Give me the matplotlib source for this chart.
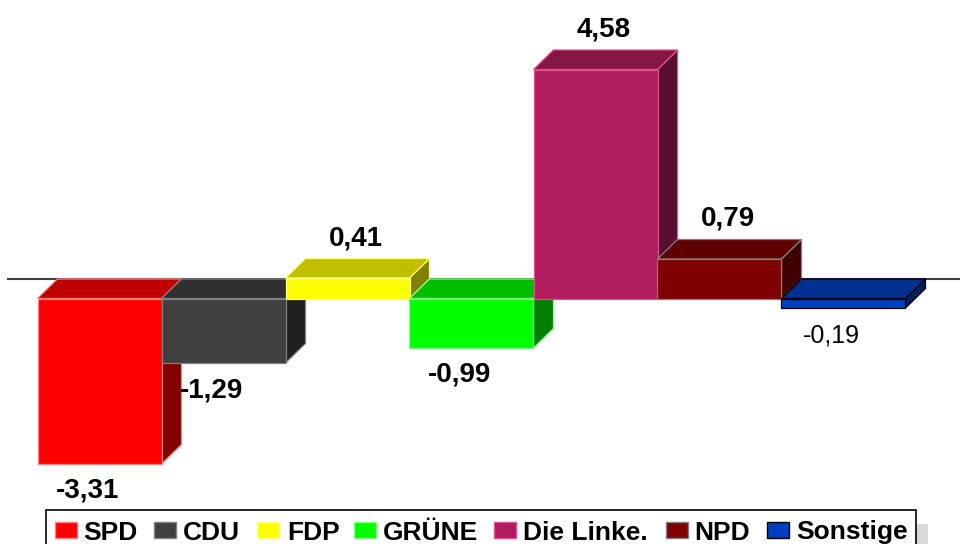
import matplotlib
matplotlib.use("Agg")
import matplotlib.pyplot as plt
from matplotlib.patches import Polygon, Rectangle
import matplotlib.colors as mcolors

plt.rcParams['font.family'] = ['Liberation Sans', 'DejaVu Sans']

# ---- data ----
parties = ["SPD", "CDU", "FDP", "GRÜNE", "Die Linke.", "NPD", "Sonstige"]
values = [-3.31, -1.29, 0.41, -0.99, 4.58, 0.79, -0.19]
value_labels = ["-3,31", "-1,29", "0,41", "-0,99", "4,58", "0,79", "-0,19"]
colors = ["#ff0000", "#404040", "#ffff00", "#00ff00", "#b01c5e", "#800000", "#0040c0"]
edge_colors = ["#ff8080", "#808080", "#ffff80", "#80ff80", "#e0508a", "#808080", "#000000"]
label_bold = [True, True, True, True, True, True, False]

# ---- layout (pixels) ----
W, H = 960, 544
x0 = 37.5      # left edge of first bar
bw = 124.0     # bar width / step
y0 = 298.5     # zero level (front) from top
ppu = 50.0     # pixels per unit
depth_x, depth_y = 20.0, 19.5

fig = plt.figure(figsize=(W / 100, H / 100), dpi=100)
ax = fig.add_axes([0, 0, 1, 1])
ax.axis('off')
ax.set_xlim(-x0 / bw, (W - x0) / bw)
ax.set_ylim((y0 - H) / ppu, y0 / ppu)
dx = depth_x / bw
dy = depth_y / ppu


def shade(c, f):
    r, g, b = mcolors.to_rgb(c)
    return (r * f, g * f, b * f)


# zero line at back plane
ax.axhline(dy, xmin=8 / W, xmax=1, color="#404040", lw=1.5, zorder=1)

lw = 0.9
for i, (v, c, ec) in enumerate(zip(values, colors, edge_colors)):
    lo, hi = min(0, v), max(0, v)
    z = 2 + i
    front = Rectangle((i, lo), 1, hi - lo, facecolor=c, edgecolor=ec, lw=lw, zorder=z)
    top = Polygon([(i, hi), (i + 1, hi), (i + 1 + dx, hi + dy), (i + dx, hi + dy)],
                  closed=True, facecolor=shade(c, 0.75), edgecolor=ec, lw=lw, zorder=z)
    side = Polygon([(i + 1, lo), (i + 1, hi), (i + 1 + dx, hi + dy), (i + 1 + dx, lo + dy)],
                   closed=True, facecolor=shade(c, 0.5), edgecolor=ec, lw=lw, zorder=z)
    ax.add_patch(side)
    ax.add_patch(top)
    ax.add_patch(front)

    if v < 0:
        off = (-12, -34)
    else:
        off = (8, 33)
    ax.annotate(value_labels[i], xy=(i + 0.5, v), xytext=off, textcoords='offset pixels',
                ha='center', va='baseline',
                fontsize=20 if label_bold[i] else 18,
                fontweight='bold' if label_bold[i] else 'normal',
                color='black', zorder=20)

# ---- legend (figure pixel placement) ----
def rect_px(x, y, w, h, **kw):
    r = Rectangle((x / W, 1 - (y + h) / H), w / W, h / H, transform=fig.transFigure, **kw)
    fig.add_artist(r)
    return r

rect_px(58, 524, 870, 40, facecolor="#d9d9d9", edgecolor='none', zorder=30)
rect_px(46, 509.5, 870, 40, facecolor="white", edgecolor='black', lw=1.2, zorder=31)

square_x = [55, 154, 257, 354, 494, 666, 767]
text_x = [83, 183, 287, 383, 523, 694, 796]
for name, c, ec, sx, tx in zip(parties, colors, edge_colors, square_x, text_x):
    rect_px(sx, 522, 22, 16, facecolor=c, edgecolor=ec, lw=1.0, zorder=32)
    fig.text(tx / W, 1 - 539.5 / H, name, ha='left', va='baseline',
             fontsize=19, fontweight='bold', color='black', zorder=33)

fig.savefig("out.png", dpi=100)
